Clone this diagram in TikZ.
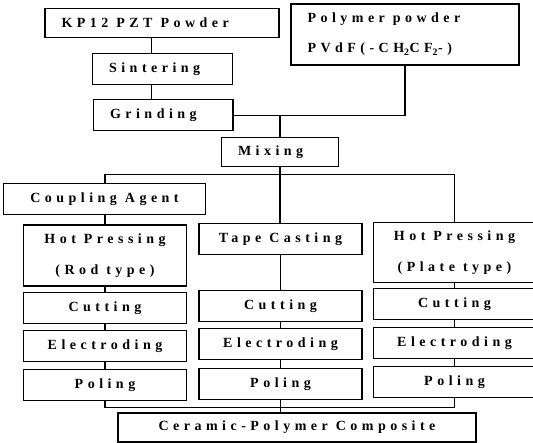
\documentclass[tikz,border=0pt]{standalone}
\usepackage{fontspec}
\newfontfamily\boxfont[LetterSpace=32]{Liberation Serif}
\newcommand{\lfill}[2]{\hbox to #1{#2\hfil}}

\begin{document}
\begin{tikzpicture}[x=1pt, y=-1pt,
  every node/.style={font=\boxfont\bfseries\fontsize{14}{17}\selectfont},
  stepbox/.style={draw, line width=1.2pt, inner sep=0pt, minimum height=31pt},
  leftbox/.style={stepbox, inner xsep=16.5pt},
  twoline/.style={stepbox, align=center},
  link/.style={line width=1.2pt}]
  \useasboundingbox (0,0) rectangle (533,443);

  % 原料与预处理
  \node[leftbox, minimum height=29pt] (kp) at (162,23) {\lfill{201pt}{KP12 PZT Powder}};
  \node[leftbox, align=left, minimum height=61pt] (poly) at (405,34.5) {\lfill{195pt}{Polymer powder}\\[13pt]\lfill{195pt}{PVdF(-CH\textsubscript{2}CF\textsubscript{2}-)}};
  \node[leftbox] (sinter) at (162.6,69) {\lfill{107pt}{Sintering}};
  \node[leftbox] (grind) at (163.3,115.4) {\lfill{106.5pt}{Grinding}};
  \node[leftbox, minimum height=28.5pt] (mix) at (280,152) {\lfill{84pt}{Mixing}};

  % 三种成型方式
  \node[stepbox, minimum width=202pt] (coup) at (104.5,199) {Coupling Agent};
  \node[twoline, minimum width=163pt, minimum height=61pt] (rodhp) at (105,255.6) {Hot Pressing\\[13.5pt](Rod type)};
  \node[stepbox, minimum width=163pt] (tape) at (280.5,239) {Tape Casting};
  \node[twoline, minimum width=162pt, minimum height=60.5pt] (platehp) at (454.5,252.6) {Hot Pressing\\[13.5pt](Plate type)};

  % 后续工序
  \node[stepbox, minimum width=163pt] (cutL) at (105,308) {Cutting};
  \node[stepbox, minimum width=163pt] (cutM) at (280.5,306) {Cutting};
  \node[stepbox, minimum width=162pt] (cutR) at (454.5,304) {Cutting};
  \node[stepbox, minimum width=163pt] (elecL) at (105,345.7) {Electroding};
  \node[stepbox, minimum width=163pt] (elecM) at (280.5,344.4) {Electroding};
  \node[stepbox, minimum width=162pt] (elecR) at (454.5,343) {Electroding};
  \node[stepbox, minimum width=163pt] (polL) at (105,385.2) {Poling};
  \node[stepbox, minimum width=163pt] (polM) at (280.5,383.8) {Poling};
  \node[stepbox, minimum width=162pt] (polR) at (454.5,382.3) {Poling};

  % 最终产品
  \node[stepbox, minimum width=358pt, minimum height=29pt] (comp) at (297,427.5) {Ceramic-Polymer Composite};

  % 连线
  \coordinate (lc) at (151.7,0);
  \coordinate (split) at (280,174.7);
  \coordinate (merge) at (280.5,407.3);
  \draw[link] (kp.south -| lc) -- (sinter.north -| lc);
  \draw[link] (sinter.south -| lc) -- (grind.north -| lc);
  \draw[link] (poly.south) |- (grind.east);
  \draw[link] (mix.north) -- (mix.north |- grind.east);
  \draw[link] (mix.south) -- (mix.south |- tape.north);
  \draw[link] (coup.north -| rodhp.north) |- (split) -| (platehp.north);
  \draw[link] (coup.south -| rodhp.north) -- (rodhp.north);
  \draw[link] (rodhp) -- (cutL) -- (elecL) -- (polL);
  \draw[link] (tape) -- (cutM) -- (elecM) -- (polM);
  \draw[link] (platehp) -- (cutR) -- (elecR) -- (polR);
  \draw[link] (polL.south) |- (merge) -| (polR.south);
  \draw[link] (polM.south) -- (polM.south |- comp.north);
\end{tikzpicture}
\end{document}
